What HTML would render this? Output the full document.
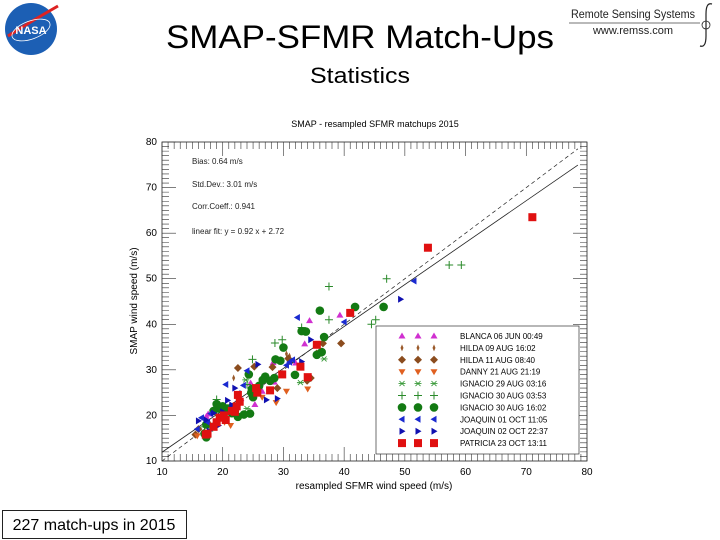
<!DOCTYPE html>
<html><head><meta charset="utf-8"><style>
html,body{margin:0;padding:0;background:#fff;}
svg{display:block;font-family:"Liberation Sans",sans-serif;}
</style></head><body>
<svg id="c" width="720" height="540" viewBox="0 0 720 540">
<g>
<circle cx="31" cy="29" r="26" fill="#1c5fb4"/>
<path d="M8 36 Q30 22 58 6" stroke="#d22" stroke-width="3" fill="none"/>
<ellipse cx="31" cy="30" rx="20" ry="9" fill="none" stroke="#fff" stroke-width="0.8" transform="rotate(-20 31 30)"/>
<text x="31" y="34" font-size="11" font-weight="bold" fill="#fff" text-anchor="middle">NASA</text>
</g>
<text x="360" y="48" font-size="32" text-anchor="middle" textLength="388" lengthAdjust="spacingAndGlyphs">SMAP-SFMR Match-Ups</text>
<text x="360" y="83" font-size="22" text-anchor="middle" textLength="100" lengthAdjust="spacingAndGlyphs">Statistics</text>
<g>
<text x="633" y="18" font-size="12" text-anchor="middle" textLength="124" lengthAdjust="spacingAndGlyphs" fill="#222">Remote Sensing Systems</text>
<line x1="569" y1="23" x2="700" y2="23" stroke="#444" stroke-width="0.8"/>
<text x="633" y="34" font-size="11" text-anchor="middle" fill="#222">www.remss.com</text>
<path d="M712 4 Q706 2 706 14 L706 36 Q706 48 700 46" stroke="#222" stroke-width="1.2" fill="none"/>
<circle cx="706" cy="25" r="4" fill="none" stroke="#222" stroke-width="0.8"/>
</g>
<g>
<rect x="2.5" y="510.5" width="184" height="28" fill="#fff" stroke="#222"/>
<text x="94" y="530" font-size="16" text-anchor="middle">227 match-ups in 2015</text>
</g>
<text x="375" y="127" font-size="9" text-anchor="middle">SMAP - resampled SFMR matchups 2015</text>
<text x="374" y="489" font-size="10" text-anchor="middle">resampled SFMR wind speed (m/s)</text>
<text transform="translate(137 301) rotate(-90)" font-size="10" text-anchor="middle">SMAP wind speed (m/s)</text>
<g font-size="8" fill="#222">
<text x="192" y="164">Bias:  0.64 m/s</text>
<text x="192" y="187">Std.Dev.:  3.01 m/s</text>
<text x="192" y="209">Corr.Coeff.:  0.941</text>
<text x="192" y="234">linear fit: y =  0.92 x +  2.72</text>
</g>
<g id="axes"></g>
<g id="marks"></g>
<g id="legend"></g>
</svg>
<script>
const xTicks=[10,20,30,40,50,60,70,80];
const yTicks=[10,20,30,40,50,60,70,80];
const seriesNames=["BLANCA 06 JUN 00:49","HILDA 09 AUG 16:02","HILDA 11 AUG 08:40","DANNY 21 AUG 21:19","IGNACIO 29 AUG 03:16","IGNACIO 30 AUG 03:53","IGNACIO 30 AUG 16:02","JOAQUIN 01 OCT 11:05","JOAQUIN 02 OCT 22:37","PATRICIA 23 OCT 13:11"];
const blanca=[[39.3,42],[34.3,40.8],[33.5,35.7],[28.3,31.6],[24.6,27.1],[25.3,22.4],[26.5,25.3],[23,23.7],[17.3,19.8],[17.6,20.3],[32,31.5],[28.5,27.3]];
const hilda09=[[30.5,33.5],[31,33],[21.8,28.2],[27,28.5],[18,18]];
const hilda11=[[39.5,35.8],[36.5,35.8],[35.5,33.6],[34.5,28.2],[33.9,27.6],[30.8,32.5],[28.2,30.6],[25.2,30.7],[22.5,30.4],[15.5,15.8],[16,17],[21.3,22],[29,26]];
const danny=[[34,25.8],[30.5,25.3],[28.8,22.8],[21.3,17.8],[20.3,18.5],[17.5,18],[26.5,24],[15.8,15.5]];
const ignacio29=[[32.8,27.2],[36.7,32.4],[24,21.5],[18,17],[23.8,27.8]];
const ignacio30a=[[47,50],[37.5,48.3],[57.3,53],[59.3,53],[45.2,41],[44.5,40],[37.5,41],[28.6,35.9],[24.9,32.3],[33,39.3],[29.8,36.6],[19,23.5],[24,26.8],[17,17.5]];
const ignacio30b=[[41.8,43.8],[36,43],[46.5,43.8],[36.7,37.2],[33,38.5],[33.7,38.4],[30,34.9],[36.3,33.9],[35.5,33.3],[28.7,32.3],[29.5,32],[28.5,28.2],[27,28.5],[27.8,27.6],[26.6,27.8],[24.8,25.8],[24.7,25],[25,24],[24.5,20.4],[23.5,20.2],[21.5,20.5],[20,22],[19.5,21.5],[19,22.5],[18.5,21],[17.3,18],[17,16],[17.3,15.2],[22,21],[22.5,19.7],[31.9,28.9],[24.3,29],[26,26.5],[20.8,21.5]];
const joaquin01=[[51.5,49.5],[40,40.5],[32.3,41.5],[31.5,32.2],[31,31.7],[24,29.8],[23.4,26.6],[20.5,26.8],[22.5,24.8],[19.5,20],[18,20.4],[16.5,19.5],[17.5,18.5],[15.8,17],[30.5,31]];
const joaquin02=[[49.3,45.5],[34.5,36.6],[33,31.8],[29,23.7],[27.2,23.4],[22,26],[25.8,31.2],[20.8,23.3],[21.5,22.3],[18.5,20.5],[17.3,19],[16,18.8],[20,20.8],[19.3,17.8],[17.8,16.6]];
const patricia=[[71,63.5],[53.8,56.8],[41,42.5],[35.5,35.5],[32.8,30.7],[34,28.4],[29.8,29],[27.8,25.5],[25.5,26],[25.7,25],[22.5,24.5],[22.8,23],[22.3,22],[21.5,21],[20.2,20],[19.5,19.5],[19,18.5],[18.5,17.5],[17.5,16],[17.2,15.8],[22,20.8],[20.5,19]];
const fitSlope=0.92, fitIntercept=2.72;

const NS="http://www.w3.org/2000/svg";
const L=162,R=587,T=142,B=461,XMIN=10,XMAX=80,YMIN=10,YMAX=80;
const sx=v=>L+(v-XMIN)/(XMAX-XMIN)*(R-L);
const sy=v=>B-(v-YMIN)/(YMAX-YMIN)*(B-T);
function mk(tag,attrs,parent){const e=document.createElementNS(NS,tag);for(const k in attrs)e.setAttribute(k,attrs[k]);parent.appendChild(e);return e;}
const axes=document.getElementById('axes'),marks=document.getElementById('marks'),leg=document.getElementById('legend');
const frame=mk('rect',{x:L,y:T,width:R-L,height:B-T,fill:'none',stroke:'#222','stroke-width':0.8},axes);


let tp='';
for(let v=XMIN;v<=XMAX;v++){const x=sx(v),len=(v%10===0)?14:7;tp+=`M${x} ${B}v${-len}M${x} ${T}v${len}`;}
for(let v=YMIN;v<=YMAX;v++){const y=sy(v),len=(v%10===0)?14:7;tp+=`M${L} ${y}h${len}M${R} ${y}h${-len}`;}
const ticks=mk('path',{d:tp,stroke:'#333','stroke-width':0.6,fill:'none'},axes);


xTicks.forEach(v=>{const t=mk('text',{x:sx(v),y:B+14,'font-size':10,'text-anchor':'middle'},axes);t.textContent=v;

});
yTicks.forEach(v=>{const t=mk('text',{x:L-5,y:sy(v)+3,'font-size':10,'text-anchor':'end'},axes);t.textContent=v;

});
const d1=mk('line',{x1:sx(10),y1:sy(10),x2:sx(78.5),y2:sy(78.5),stroke:'#222','stroke-width':0.7,'stroke-dasharray':'4,3'},marks);


const f1=mk('line',{x1:sx(10),y1:sy(fitSlope*10+fitIntercept),x2:sx(78.5),y2:sy(fitSlope*78.5+fitIntercept),stroke:'#222','stroke-width':0.8},marks);


function sym(type,color,x,y,g){
 let e;
 if(type==='tri')e=mk('path',{d:`M${x} ${y-3.5}L${x+3.5} ${y+2.5}L${x-3.5} ${y+2.5}Z`,fill:color},g);
 else if(type==='dtri')e=mk('path',{d:`M${x} ${y+3.5}L${x+3.5} ${y-2.5}L${x-3.5} ${y-2.5}Z`,fill:color},g);
 else if(type==='ltri')e=mk('path',{d:`M${x-3.5} ${y}L${x+2.5} ${y-3.5}L${x+2.5} ${y+3.5}Z`,fill:color},g);
 else if(type==='rtri')e=mk('path',{d:`M${x+3.5} ${y}L${x-2.5} ${y-3.5}L${x-2.5} ${y+3.5}Z`,fill:color},g);
 else if(type==='sdia')e=mk('path',{d:`M${x} ${y-3.5}L${x+1.5} ${y}L${x} ${y+3.5}L${x-1.5} ${y}Z`,fill:color},g);
 else if(type==='dia')e=mk('path',{d:`M${x} ${y-4}L${x+4} ${y}L${x} ${y+4}L${x-4} ${y}Z`,fill:color},g);
 else if(type==='star')e=mk('path',{d:`M${x-3.5} ${y}h7M${x-2.5} ${y-2.5}l5 5M${x-2.5} ${y+2.5}l5 -5`,stroke:color,'stroke-width':0.9,fill:'none'},g);
 else if(type==='plus')e=mk('path',{d:`M${x-4} ${y}h8M${x} ${y-4}v8`,stroke:color,'stroke-width':1,fill:'none'},g);
 else if(type==='circ')e=mk('circle',{cx:x,cy:y,r:4.3,fill:color},g);
 else e=mk('rect',{x:x-4,y:y-4,width:8,height:8,fill:color},g);
 return e;
}
const series=[[blanca,'tri','#d030d0'],[hilda09,'sdia','#9a5a2a'],[hilda11,'dia','#8b4c1e'],[danny,'dtri','#e06020'],[ignacio29,'star','#3a9a3a'],[ignacio30a,'plus','#2a8a2a'],[ignacio30b,'circ','#137a13'],[joaquin01,'ltri','#1a2ad0'],[joaquin02,'rtri','#1010b0'],[patricia,'sq','#e01010']];
series.forEach((s,i)=>{
 const g=mk('g',{},marks);
 
 
 s[0].forEach(p=>{const e=sym(s[1],s[2],sx(p[0]),sy(p[1]),g);
  
  });
});
const lb=mk('rect',{x:376,y:326,width:203,height:128,fill:'#fff',stroke:'#333','stroke-width':0.7},leg);


series.forEach((s,i)=>{
 const y=336+i*11.9;
 const g=mk('g',{},leg);
 
 
 [402,418,434].forEach(x=>sym(s[1],s[2],x,y,g));
 const t=mk('text',{x:460,y:y+3,'font-size':8},g);t.textContent=seriesNames[i];
});
</script>
</body></html>
